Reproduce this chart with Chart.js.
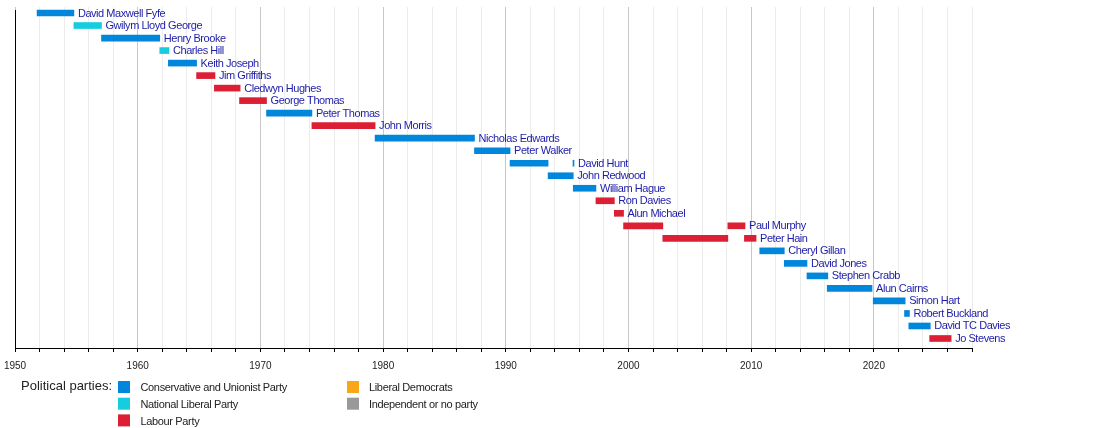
<!DOCTYPE html>
<html lang="en">
<head>
    <meta charset="UTF-8">
    <title>Secretaries of State for Wales</title>
    <script src="https://cdn.jsdelivr.net/npm/chart.js"></script>
    <style>
        html, body { margin: 0; padding: 0; background: #fff; }
        #wrap { width: 1100px; height: 428px; position: relative; }
    </style>
</head>
<body>
    <div id="wrap">
        <canvas id="myChart" width="1100" height="428"></canvas>
    </div>

    <script>
    // office holders, top to bottom
    const ministers = [
        'David Maxwell Fyfe', 'Gwilym Lloyd George', 'Henry Brooke', 'Charles Hill',
        'Keith Joseph', 'Jim Griffiths', 'Cledwyn Hughes', 'George Thomas',
        'Peter Thomas', 'John Morris', 'Nicholas Edwards', 'Peter Walker',
        'David Hunt', 'John Redwood', 'William Hague', 'Ron Davies',
        'Alun Michael', 'Paul Murphy', 'Peter Hain', 'Cheryl Gillan',
        'David Jones', 'Stephen Crabb', 'Alun Cairns', 'Simon Hart',
        'Robert Buckland', 'David TC Davies', 'Jo Stevens'
    ];

    // first spell in office (years)
    const termStart = [
        1951.8, 1954.8, 1957.05, 1961.8,
        1962.5, 1964.8, 1966.25, 1968.3,
        1970.5, 1974.2, 1979.35, 1987.45,
        1990.35, 1993.45, 1995.5, 1997.35,
        1998.85, 1999.6, 2002.8, 2010.7,
        2012.7, 2014.55, 2016.2, 2019.95,
        2022.5, 2022.85, 2024.55
    ];
    const termEnd = [
        1954.8, 1957.05, 1961.8, 1962.55,
        1964.8, 1966.3, 1968.35, 1970.5,
        1974.2, 1979.35, 1987.45, 1990.35,
        1993.45, 1995.5, 1997.35, 1998.85,
        1999.6, 2002.8, 2008.1, 2012.7,
        2014.55, 2016.25, 2019.85, 2022.55,
        2022.9, 2024.6, 2026.3
    ];
    const party = [
        'con', 'natlib', 'con', 'natlib',
        'con', 'lab', 'lab', 'lab',
        'con', 'lab', 'con', 'con',
        'con', 'con', 'con', 'lab',
        'lab', 'lab', 'lab', 'con',
        'con', 'con', 'con', 'con',
        'con', 'con', 'lab'
    ];

    // second spells (Hunt, Murphy, Hain)
    const secondName = ['David Hunt', 'Paul Murphy', 'Peter Hain'];
    const secondStart = [1995.48, 2008.1, 2009.45];
    const secondEnd = [1995.56, 2009.5, 2010.4];

    const partyKeys = ['con', 'natlib', 'lab', 'libdem', 'ind'];
    const partyNames = ['Conservative and Unionist Party', 'National Liberal Party', 'Labour Party',
                        'Liberal Democrats', 'Independent or no party'];
    const partyColors = ['#0087DC', '#16CDE0', '#DC1F35', '#FAA61A', '#999999'];

    const xMin = 1950, xMax = 2028;
    const FONT = '"Liberation Sans", Arial, sans-serif';

    function buildDatasets() {
        const sets = [];
        partyKeys.forEach((key, k) => {
            const first = [];
            ministers.forEach((name, i) => {
                if (party[i] === key) first.push({ x: [termStart[i], termEnd[i]], y: i });
            });
            const second = [];
            secondName.forEach((name, j) => {
                const i = ministers.indexOf(name);
                if (party[i] === key) second.push({ x: [secondStart[j], secondEnd[j]], y: i });
            });
            [first, second].forEach(data => {
                if (data.length) sets.push({
                    label: partyNames[k],
                    data: data,
                    backgroundColor: partyColors[k],
                    borderWidth: 0,
                    barThickness: 6,
                    grouped: false,
                    minBarLength: 1
                });
            });
        });
        return sets;
    }

    const namesPlugin = {
        id: 'names',
        afterDatasetsDraw(chart) {
            const ctx = chart.ctx;
            const xs = chart.scales.x, ys = chart.scales.y;
            ctx.save();
            ctx.font = '11px ' + FONT;
            ctx.letterSpacing = '-0.45px';
            ctx.fillStyle = '#1c1ca8';
            ctx.textBaseline = 'middle';
            ministers.forEach((name, i) => {
                let end = termEnd[i];
                const j = secondName.indexOf(name);
                if (j >= 0) end = Math.max(end, secondEnd[j]);
                ctx.fillText(name, xs.getPixelForValue(end) + 4, ys.getPixelForValue(i) + 0.5);
            });
            ctx.letterSpacing = '0px';
            // left axis line
            const a = chart.chartArea;
            ctx.strokeStyle = '#000';
            ctx.lineWidth = 1;
            ctx.beginPath();
            ctx.moveTo(Math.round(a.left) + 0.5, a.top + 3);
            ctx.lineTo(Math.round(a.left) + 0.5, a.bottom);
            ctx.stroke();
            ctx.restore();
        },
        afterDraw(chart) {
            const ctx = chart.ctx;
            ctx.save();
            ctx.textBaseline = 'middle';
            ctx.fillStyle = '#222';
            ctx.font = '13px ' + FONT;
            ctx.fillText('Political parties:', 21, 386);
            ctx.font = '11px ' + FONT;
            ctx.letterSpacing = '-0.35px';
            partyNames.forEach((name, k) => {
                const col = k < 3 ? 0 : 1;
                const row = k < 3 ? k : k - 3;
                const bx = col ? 347 : 118;
                const by = 381 + row * 16.7;
                ctx.fillStyle = partyColors[k];
                ctx.fillRect(bx, by, 12, 12);
                ctx.fillStyle = '#222';
                ctx.fillText(name, bx + (col ? 22 : 22.5), by + 7.3);
            });
            ctx.restore();
        }
    };

    new Chart(document.getElementById('myChart'), {
        type: 'bar',
        data: { datasets: buildDatasets() },
        plugins: [namesPlugin],
        options: {
            indexAxis: 'y',
            responsive: false,
            animation: false,
            layout: { padding: { left: 15, right: 128, top: 7, bottom: 0 } },
            plugins: {
                legend: { display: false },
                tooltip: { enabled: false }
            },
            scales: {
                x: {
                    type: 'linear',
                    min: xMin,
                    max: xMax,
                    afterFit: s => {
                        s.height = 80;
                        s.paddingLeft = 0;
                        s.paddingRight = 0;
                    },
                    border: { color: '#000', width: 1 },
                    grid: {
                        color: c => (c.tick && c.tick.value % 10 === 0) ? '#c8c8c8' : '#ececec',
                        tickColor: '#000',
                        tickLength: 4
                    },
                    ticks: {
                        stepSize: 2,
                        autoSkip: false,
                        maxRotation: 0,
                        padding: 8,
                        color: '#222',
                        font: { family: FONT, size: 10 },
                        callback: v => v % 10 === 0 ? String(v) : ''
                    }
                },
                y: {
                    type: 'linear',
                    reverse: true,
                    offset: false,
                    grace: 0,
                    min: -0.48,
                    max: 26.76,
                    display: false
                }
            }
        }
    });
    </script>
</body>
</html>
